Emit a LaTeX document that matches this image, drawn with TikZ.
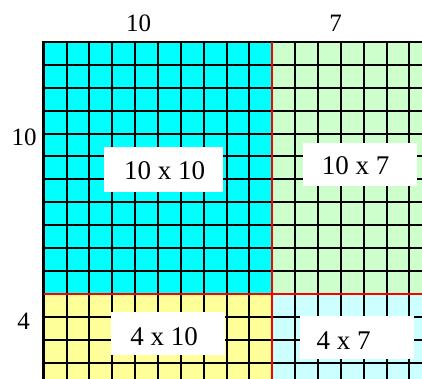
\documentclass[tikz,border=0pt]{standalone}
\usepackage{fontspec}
\setmainfont{Liberation Serif}
\definecolor{cyanfill}{HTML}{00FFFF}
\definecolor{greenfill}{HTML}{CCFFCC}
\definecolor{yellowfill}{HTML}{FFFF99}
\definecolor{lcyanfill}{HTML}{CCFFFF}
\definecolor{redline}{HTML}{FF0000}
\begin{document}
\begin{tikzpicture}[x=1pt,y=-1pt,
  gridline/.style={black,line width=2pt},
  border/.style={black,line width=2.6pt,line cap=rect},
  divider/.style={redline,line width=2.2pt},
  whitebox/.style={fill=white,draw=none,inner sep=0pt},
  sidelbl/.style={inner sep=0pt,font=\fontsize{25}{25}\selectfont},
  celllbl/.style={inner sep=0pt,font=\fontsize{27}{27}\selectfont}]
\useasboundingbox (0,0) rectangle (422,379);
\clip (0,0) rectangle (422,379);
% fills
\fill[cyanfill] (43.7,42) rectangle (272.3,294);
\fill[greenfill] (272.3,42) rectangle (440,294);
\fill[yellowfill] (43.7,294) rectangle (272.3,400);
\fill[lcyanfill] (272.3,294) rectangle (440,400);
% grid
\foreach \i in {1,...,17} \draw[gridline] ({43.7+\i*22.86},42) -- ({43.7+\i*22.86},400);
\foreach \j in {1,...,15} \draw[gridline] (43.7,{42+\j*22.9}) -- (440,{42+\j*22.9});
% outer border
\draw[border] (43.7,400) -- (43.7,42) -- (440,42);
% dividers
\draw[divider] (272.3,42) -- (272.3,400);
\draw[divider] (43.7,294) -- (440,294);
% side labels
\node[sidelbl] (top10) at (138.5,23.5) {10};
\node[sidelbl] (top7) at (335.5,23.5) {7};
\node[sidelbl] (left10) at (24,137.5) {10};
\node[sidelbl] (left4) at (23.7,321) {4};
% boxes
\node[whitebox,minimum width=118.7pt,minimum height=44.4pt] (b1) at (163.3,169.5) {};
\node[whitebox,minimum width=114pt,minimum height=42.4pt] (b2) at (359.7,164.5) {};
\node[whitebox,minimum width=114pt,minimum height=43.3pt] (b3) at (168,333.3) {};
\node[whitebox,minimum width=114pt,minimum height=42.6pt] (b4) at (357,337.3) {};
\node[celllbl] (t1) at (164.5,171) {10 x 10};
\node[celllbl] (t2) at (355.7,166) {10 x 7};
\node[celllbl] (t3) at (164,336.5) {4 x 10};
\node[celllbl] (t4) at (343.7,341) {4 x 7};
\end{tikzpicture}
\end{document}
